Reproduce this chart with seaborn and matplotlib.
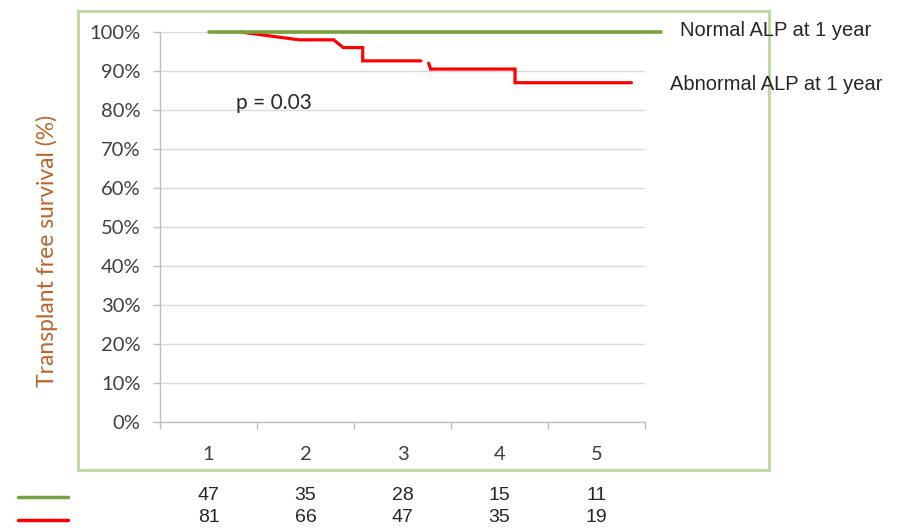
import numpy as np
import pandas as pd
import matplotlib
matplotlib.use("Agg")
import matplotlib.pyplot as plt
import matplotlib.transforms as mtransforms
from matplotlib.patches import Rectangle
import seaborn as sns

# Kaplan-Meier style curves (time in years, survival in %)
normal_time = [1.0, 5.67]
normal_surv = [100.0, 100.0]

abnormal_time_a = [1.33, 1.93, 2.29, 2.39, 2.59, 2.59, 3.19]
abnormal_surv_a = [100.0, 98.0, 98.0, 96.0, 96.0, 92.6, 92.6]
abnormal_time_b = [3.27, 3.29, 4.16, 4.16, 5.36]
abnormal_surv_b = [92.0, 90.5, 90.5, 87.0, 87.0]

years = [1, 2, 3, 4, 5]
y_ticks = [0, 10, 20, 30, 40, 50, 60, 70, 80, 90, 100]
y_tick_labels = [f"{v}%" for v in y_ticks]

at_risk_normal = [47, 35, 28, 15, 11]
at_risk_abnormal = [81, 66, 47, 35, 19]

group_names = ["Normal ALP at 1 year", "Abnormal ALP at 1 year"]
p_value_text = "p = 0.03"

GREEN = "#78a23c"
RED = "#ff0000"
FRAME = "#bcd6a0"
TEXT = "#262626"
ARIAL = ["Liberation Sans", "DejaVu Sans"]

sns.set_style("white")
plt.rcParams["font.family"] = ["Lato", "DejaVu Sans"]

df = pd.concat([
    pd.DataFrame({"t": normal_time, "s": normal_surv, "group": group_names[0], "seg": "n"}),
    pd.DataFrame({"t": abnormal_time_a, "s": abnormal_surv_a, "group": group_names[1], "seg": "a1"}),
    pd.DataFrame({"t": abnormal_time_b, "s": abnormal_surv_b, "group": group_names[1], "seg": "a2"}),
], ignore_index=True)

fig = plt.figure(figsize=(8.97, 5.28), dpi=100)
W, H = 897, 528
ax = fig.add_axes([160 / W, 1 - 422 / H, (645 - 160) / W, (422 - 32) / H])

# outer light-green chart frame
fig.patches.append(Rectangle((78 / W, 1 - 470 / H), (769 - 78) / W, (470 - 11) / H,
                             transform=fig.transFigure, fill=False,
                             edgecolor=FRAME, linewidth=2.0, zorder=0))

sns.lineplot(data=df, x="t", y="s", hue="group", units="seg", estimator=None,
             sort=False, palette={group_names[0]: GREEN, group_names[1]: RED},
             linewidth=2.3, legend=False, ax=ax)
for ln in ax.lines:
    ln.set_clip_on(False)
    ln.set_solid_joinstyle("miter")
# green curve drawn above red where they overlap at 100%
ax.lines[0].set_zorder(4)
ax.lines[0].set_linewidth(2.6)

ax.set_xlim(0.5, 5.5)
ax.set_ylim(0, 100)

ax.set_yticks(y_ticks)
ax.set_yticklabels(y_tick_labels)
ax.yaxis.grid(True, color="#d9d9d9", linewidth=1.0)
ax.set_axisbelow(True)

# category-style x axis: tick marks between years, labels at the year centres
ax.set_xticks([0.5, 1.5, 2.5, 3.5, 4.5, 5.5])
ax.set_xticklabels([])
ax.set_xticks(years, minor=True)
ax.set_xticklabels([str(y) for y in years], minor=True)
ax.tick_params(axis="x", which="major", length=5, color="#bfbfbf", width=1, direction="out")
ax.tick_params(axis="x", which="minor", length=0, pad=17, labelsize=14.5, labelcolor="#404040")
ax.tick_params(axis="y", length=5, color="#bfbfbf", width=1, direction="out",
               pad=9, labelsize=14.5, labelcolor="#404040")
ax.tick_params(axis="x", which="major", bottom=True)
ax.tick_params(axis="y", left=True)

for side in ["top", "right"]:
    ax.spines[side].set_visible(False)
for side in ["left", "bottom"]:
    ax.spines[side].set_color("#bfbfbf")
    ax.spines[side].set_linewidth(1.0)

ax.set_xlabel("")
ax.set_ylabel("")
fig.text(47 / W, 1 - 251 / H, "Transplant free survival (%)", rotation=90,
         color="#c0632b", fontsize=16.5, ha="center", va="center")

ax.text(1.28, 81.8, p_value_text, fontsize=15, color=TEXT, va="center", ha="left")

# curve labels at the right
fig.text(680 / W, 1 - 30 / H, group_names[0], fontsize=14.5, color=TEXT,
         family=ARIAL, va="center", ha="left")
fig.text(670 / W, 1 - 84 / H, group_names[1], fontsize=14.5, color=TEXT,
         family=ARIAL, va="center", ha="left")

# number at risk table
blend = mtransforms.blended_transform_factory(ax.transData, fig.transFigure)
for rows, ypix, col in [(at_risk_normal, 495, GREEN), (at_risk_abnormal, 518, RED)]:
    fig.add_artist(plt.Line2D([18 / W, 68 / W], [1 - (ypix + 2) / H, 1 - (ypix + 2) / H],
                              transform=fig.transFigure, color=col, linewidth=2.5))
    for yr, n in zip(years, rows):
        ax.text(yr, 1 - ypix / H, str(n), transform=blend, fontsize=14,
                color=TEXT, family=ARIAL, ha="center", va="center")

fig.savefig("out.png", dpi=100)
